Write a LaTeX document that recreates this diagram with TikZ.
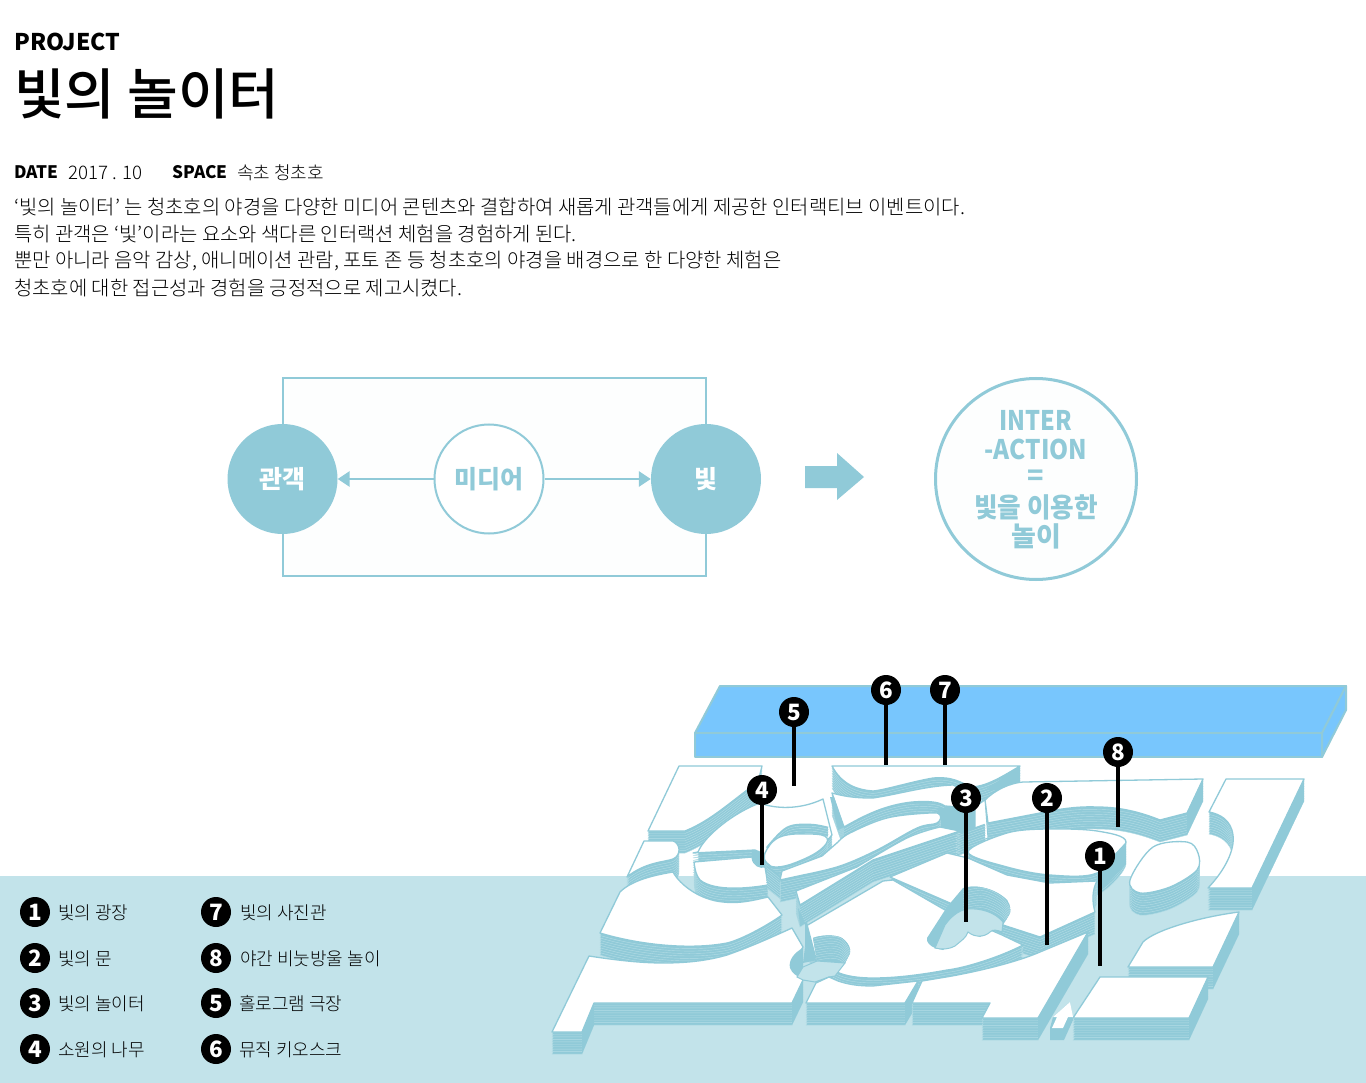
\documentclass[tikz,border=0pt]{standalone}
\usepackage{fontspec}
\setmainfont{Noto Sans CJK KR}
\newfontfamily\krl{Noto Sans CJK KR Light}
\newfontfamily\krm{Noto Sans CJK KR Medium}
\usetikzlibrary{arrows.meta}
\definecolor{mt}{HTML}{90CAD8}
\definecolor{lt}{HTML}{C2E3EA}
\definecolor{wb}{HTML}{78C6FD}
\definecolor{stripeC}{HTML}{B4DDE6}
\tikzset{
 strata/.style={fill=mt,draw=stripeC,line width=.4pt},
 topface/.style={fill=white,draw=mt,line width=1.3pt,line join=round},
 sidef/.style={fill=mt},
 floorf/.style={fill=lt,draw=mt,line width=1pt},
 waterf/.style={fill=wb,draw=mt,line width=2pt,line join=round},
 fullc/.style={circle,fill=mt,minimum size=110pt,inner sep=0pt,text=white,font=\bfseries\fontsize{25}{25}\selectfont},
 openc/.style={circle,fill=white,draw=mt,line width=2pt,minimum size=109pt,inner sep=0pt,text=mt,font=\bfseries\fontsize{25}{25}\selectfont},
 frameline/.style={draw=mt,line width=2pt},
 arrowline/.style={draw=mt,line width=2.8pt,-{Triangle[length=12pt,width=15pt]}},
 badge/.style={circle,fill=black,text=white,minimum size=30pt,inner sep=0pt,font=\bfseries\fontsize{22.5}{22.5}\selectfont},
 pin/.style={draw=black,line width=4pt},
 lbl/.style={anchor=west,inner sep=0pt,text=black,font=\krl\fontsize{18}{20}\selectfont},
 bodyt/.style={anchor=west,inner sep=0pt,text=black,font=\krl\fontsize{19.9}{20}\selectfont},
 headt/.style={anchor=west,inner sep=0pt,text=black,font=\bfseries\fontsize{17.2}{18}\selectfont},
 bigt/.style={text=mt,font=\bfseries\fontsize{27}{27}\selectfont,inner sep=0pt},
}
\newcommand{\slab}[2][9]{%
 \foreach \k in {#1,...,1}{\path[strata,shift={(0,\k*2.45)}] #2;}%
 \path[topface] #2;}
\newcommand{\wall}[2][8]{%
 \foreach \k in {0,...,#1}{\draw[mt,line width=2.6pt,shift={(0,\k*2.45)}] #2;}%
 \foreach \k in {0,...,#1}{\draw[stripeC,line width=.4pt,shift={(0,\k*2.45+1.2)}] #2;}}
\begin{document}
\begin{tikzpicture}[x=1pt,y=-1pt]
\useasboundingbox (0,0) rectangle (1366,1083);
\fill[white] (0,0) rectangle (1366,1083);
\fill[lt] (0,876) rectangle (1366,1083);
% header
\node[headt,font=\bfseries\fontsize{23}{24}\selectfont] (hproj) at (14,42) {PROJECT};
\node[anchor=west,inner sep=0pt,font=\krm\fontsize{55}{55}\selectfont] (htitle) at (14,94) {빛의 놀이터};
\node[headt] (hdate) at (14,172.5) {DATE};
\node[bodyt,font=\krl\fontsize{18.7}{19}\selectfont] (hdatev) at (68,172.5) {2017 . 10};
\node[headt] (hspace) at (172,172.5) {SPACE};
\node[bodyt,font=\krl\fontsize{18}{19}\selectfont] (hspacev) at (237,172.5) {속초 청초호};
\node[bodyt] (b1) at (14,207) {‘빛의 놀이터’ 는 청초호의 야경을 다양한 미디어 콘텐츠와 결합하여 새롭게 관객들에게 제공한 인터랙티브 이벤트이다.};
\node[bodyt] (b2) at (14,234) {특히 관객은 ‘빛’이라는 요소와 색다른 인터랙션 체험을 경험하게 된다.};
\node[bodyt] (b3) at (14,261) {뿐만 아니라 음악 감상, 애니메이션 관람, 포토 존 등 청초호의 야경을 배경으로 한 다양한 체험은};
\node[bodyt] (b4) at (14,288) {청초호에 대한 접근성과 경험을 긍정적으로 제고시켰다.};
% concept diagram
\fill[white!97!lt] (283,378) rectangle (706,576);
\coordinate (tl) at (282.5,378); \coordinate (tr) at (706,378);
\coordinate (bl) at (282.5,576); \coordinate (br) at (706,576);
\node[fullc] (aud) at (282.5,479) {관객};
\node[fullc] (lit) at (706,479) {빛};
\node[openc] (med) at (489,479) {미디어};
\draw[frameline] (aud.north) -- (tl) -- (tr) -- (lit.north);
\draw[frameline] (aud.south) -- (bl) -- (br) -- (lit.south);
\draw[arrowline] (med) -- (aud);
\draw[arrowline] (med) -- (lit);
\fill[mt] (805,466) -- (837,466) -- (837,453) -- (864,477) -- (837,500) -- (837,488) -- (805,488) -- cycle;
\node[circle,draw=mt,line width=3pt,fill=white!97!lt,minimum size=201pt,inner sep=0pt] (res) at (1036,479) {};
\node[bigt] (r1) at (1036,420) {\scalebox{.87}[1]{INTER}};
\node[bigt] (r2) at (1036,449) {\scalebox{.9}[1]{-ACTION}};
\node[bigt] (r3) at (1036,478) {=};
\node[bigt] (r4) at (1036,507) {\scalebox{.95}[1]{빛을 이용한}};
\node[bigt] (r5) at (1036,536) {놀이};
% water
\path[waterf] (720,686) -- (1346,686) -- (1322,733) -- (695,733) -- cycle;
\path[waterf] (695,733) -- (1322,733) -- (1322,757) -- (695,757) -- cycle;
\path[waterf] (1322,733) -- (1346,686) -- (1346,710) -- (1322,757) -- cycle;
% A
\slab{(679,766) -- (762,766) -- (758,782) .. controls (730,802) and (712,820) .. (685,831) -- (648,831) -- cycle}
% N with oval hollow
\slab{(698,852) .. controls (705,835) and (735,812) .. (760,803) .. controls (775,809) and (800,810) .. (823,799) -- (832,835) -- (800,870) -- (755,850) -- (693,853) -- cycle}
\begin{scope}
\clip (760,820) rectangle (829,860);
\wall[3]{plot[smooth,tension=.6] coordinates {(767,848) (787,828) (810,825) (828,828)}}
\end{scope}
\slab[3]{plot[smooth cycle,tension=.7] coordinates {(765,853) (780,837) (810,834) (827,838) (820,850) (797,862) (777,867) (767,863)}}
\fill[mt] (752,850) .. controls (750,862) and (757,868) .. (765,867) -- (765,853) -- cycle;
% B
\slab{(644,841) -- (673,841) .. controls (680,843) and (682,855) .. (673,859) .. controls (665,862) and (645,862) .. (627,877) -- cycle}
% O
\slab{(694,862) -- (752,857) .. controls (753,866) and (760,868) .. (765,867) -- (768,885) .. controls (750,888) and (715,892) .. (700,880) .. controls (696,875) and (695,870) .. (694,862) -- cycle}
% L
\slab{(832,766) -- (1020,766) .. controls (1000,778) and (985,787) .. (970,787) .. controls (955,778) and (945,777) .. (933,778) .. controls (910,782) and (885,790) .. (873,791) .. controls (858,790) and (842,785) .. (832,766) -- cycle}
\fill[sidef] (1020,766) -- (1020,782) -- (1000,790) -- (985,790) -- cycle;
% M
\slab{(832,793) .. controls (850,798) and (862,798) .. (873,798) .. controls (900,794) and (925,786) .. (953,785) -- (975,795) -- (983,800) -- (975,808) -- (945,806) .. controls (938,801) and (925,801) .. (912,802) .. controls (885,805) and (865,815) .. (844,827) -- cycle}
\fill[sidef] (830,797) -- (834,797) -- (844,827) -- (838,830) -- cycle;
\fill[sidef] (938,808) -- (976,808) -- (976,832) -- (957,836) -- (935,826) -- cycle;
% K and I
\slab{(985,800) .. controls (995,790) and (1010,783) .. (1023,782) -- (1203,779) -- (1187,813) -- (1160,820) .. controls (1140,812) and (1120,807) .. (1097,807) .. controls (1075,806) and (1055,810) .. (1040,813) -- (988,823) -- cycle}
\fill[sidef] (1203,779) -- (1187,813) -- (1187,835) -- (1203,801) -- cycle;
\path[fill=white,draw=mt,line width=1pt] (985,800) -- (988,838) -- (975,843) -- (975,807) -- cycle;
\slab{(1226,779) -- (1304,779) -- (1252,888) -- (1208,888) .. controls (1225,870) and (1235,850) .. (1233,835) .. controls (1231,820) and (1220,814) .. (1209,812) -- cycle}
\fill[sidef] (1304,779) -- (1252,888) -- (1252,910) -- (1304,801) -- cycle;
% P serpentine
\wall[8]{(767,867) -- (782,879)}
\slab{(782,871) -- (822,856) -- plot[smooth,tension=.6] coordinates {(838,842) (850,833) (887,818) (930,813) (940,815) (937,823) (917,828) (877,850) (840,866) (803,875)} -- (780,880) -- cycle}
% S
\wall[8]{(957,835) -- (985,825)}
\slab{(796,891) -- plot[smooth,tension=.6] coordinates {(857,867) (907,838) (940,827)} -- (960,831) -- (873,860) -- (800,905) -- cycle}
% T
\slab{plot[smooth cycle,tension=.55] coordinates {(968,852) (1007,833) (1047,829) (1097,831) (1126,842) (1097,873) (1050,875) (1007,867)}}
\fill[sidef] (1126,842) -- (1097,873) -- (1097,895) -- (1126,864) -- cycle;
% J
\slab{plot[smooth cycle,tension=.55] coordinates {(1130,880) (1153,847) (1187,842) (1198,853) (1197,870) (1170,887) (1140,893)}}
% R2
\slab{(890,877) -- (947,853) -- (968,858) -- (1007,875) -- (1050,883) -- (1097,881) .. controls (1092,890) and (1092,902) .. (1095,912) -- (1040,937) -- (1003,925) -- (950,903) -- cycle}
% R
\slab{(806,926) -- (883,881) -- (893,880) -- (945,910) -- (1002,935) -- (1023,945) .. controls (1000,957) and (965,968) .. (947,970) .. controls (920,975) and (895,978) .. (873,978) .. controls (858,978) and (845,976) .. (837,972) -- (815,960) -- cycle}
% hollow 3
\fill[mt] (927,938) -- (947,907) -- (963,888) .. controls (975,884) and (995,888) .. (1007,900) .. controls (1010,904) and (1011,910) .. (1010,913) -- (1003,925) -- (1002,932) -- (993,930) -- (980,937) -- (968,932) -- (962,938) -- (943,950) -- (935,948) .. controls (930,946) and (926,942) .. (927,938) -- cycle;
\begin{scope}
\clip (963,888) .. controls (975,884) and (995,888) .. (1007,900) .. controls (1010,904) and (1011,910) .. (1010,913) -- (1003,925) -- (963,915) -- cycle;
\wall[8]{plot[smooth,tension=.6] coordinates {(963,890) (983,887) (1002,896) (1010,908)}}
\end{scope}
\path[floorf] (935,948) -- (945,925) .. controls (950,918) and (958,910) .. (968,909) .. controls (980,908) and (995,912) .. (1003,922) -- (1002,932) .. controls (997,930) and (993,929) .. (990,932) .. controls (985,937) and (975,938) .. (968,932) .. controls (966,938) and (962,940) .. (955,946) .. controls (950,949) and (942,950) .. (935,948) -- cycle;
% C
\slab{(600,933) -- (620,892) .. controls (632,880) and (655,875) .. (673,872) .. controls (680,885) and (700,900) .. (723,902) .. controls (740,904) and (755,900) .. (768,897) -- (782,915) .. controls (765,927) and (740,940) .. (727,943) .. controls (690,950) and (640,945) .. (600,933) -- cycle}
% D
\slab{(589,956) .. controls (615,960) and (640,963) .. (663,963) .. controls (690,963) and (710,960) .. (727,955) .. controls (750,947) and (770,938) .. (792,928) -- (803,947) -- (793,963) -- (803,980) -- (792,1003) -- (594,1003) -- (582,1032) -- (552,1032) -- cycle}
\fill[sidef] (803,980) -- (792,1003) -- (792,1025) -- (803,1002) -- cycle;
\fill[sidef] (594,1003) -- (582,1032) -- (582,1054) -- (594,1025) -- cycle;
% hollow 1
\fill[mt] (803,948) .. controls (795,952) and (788,960) .. (790,968) .. controls (792,973) and (796,976) .. (803,979) -- cycle;
\fill[mt] (798,908) -- (800,925) -- (807,922) -- (817,960) -- (805,947) -- (805,923) -- cycle;
\fill[mt] (805,947) -- (817,960) -- (803,963) -- cycle;
\begin{scope}
\clip (813,938) .. controls (820,935) and (835,934) .. (842,938) .. controls (848,942) and (851,948) .. (850,953) -- (845,963) -- (817,961) -- cycle;
\fill[mt] (805,925) rectangle (855,965);
\wall[9]{plot[smooth,tension=.6] coordinates {(813,938) (830,935) (842,938) (850,950)}}
\end{scope}
\path[floorf] (797,977) -- (803,967) -- (817,961) -- (845,963) -- (835,976) -- (829,977) -- (815,982) -- (803,980) -- cycle;
% E
\slab{(806,1003) -- (816,983) -- (829,977) -- (838,981) .. controls (850,985) and (860,986) .. (873,986) -- (918,981) -- (905,1003) -- cycle}
\fill[sidef] (918,981) -- (905,1003) -- (905,1025) -- (918,1003) -- cycle;
% F
\slab{(912,1003) -- (922,981) -- (940,978) .. controls (960,975) and (1010,965) .. (1040,952) -- (1088,932) -- (1038,1018) -- (982,1018) -- (990,1003) -- cycle}
\fill[sidef] (1088,932) -- (1038,1018) -- (1038,1040) -- (1088,954) -- cycle;
% H
\slab{(1128,967) -- (1143,942) .. controls (1155,930) and (1200,917) .. (1239,912) -- (1213,967) -- cycle}
\fill[sidef] (1239,912) -- (1213,967) -- (1213,989) -- (1239,934) -- cycle;
% G
\slab{(1100,977) -- (1208,977) -- (1189,1018) -- (1073,1018) -- cycle}
\fill[sidef] (1208,977) -- (1189,1018) -- (1189,1040) -- (1208,999) -- cycle;
% entrance arrow
\fill[mt] (1050,1040) -- (1064,1040) -- (1073,1020) -- (1070,1002) -- (1053,1017) -- (1050,1028) -- cycle;
\fill[white] (1070,1002) -- (1073,1017) -- (1068,1017) -- (1063,1028) -- (1052,1028) -- (1057,1017) -- (1053,1017) -- cycle;
% pins
\node[badge] (m5) at (794,712) {5}; \coordinate (p5) at (794,786);
\node[badge] (m6) at (886,690) {6}; \coordinate (p6) at (886,765);
\node[badge] (m7) at (945,690) {7}; \coordinate (p7) at (945,765);
\node[badge] (m4) at (762,790) {4}; \coordinate (p4) at (762,865);
\node[badge] (m3) at (966,798) {3}; \coordinate (p3) at (966,922);
\node[badge] (m2) at (1047,798) {2}; \coordinate (p2) at (1047,945);
\node[badge] (m8) at (1118,752) {8}; \coordinate (p8) at (1118,827);
\node[badge] (m1) at (1100,856) {1}; \coordinate (p1) at (1100,966);
\foreach \n in {1,...,8}{\draw[pin] (m\n) -- (p\n);}
% legend
\node[badge] (k1) at (35,912) {1}; \node[lbl] (t1) at (58,913) {빛의 광장};
\node[badge] (k2) at (35,958) {2}; \node[lbl] (t2) at (58,959) {빛의 문};
\node[badge] (k3) at (35,1003) {3}; \node[lbl] (t3) at (58,1004) {빛의 놀이터};
\node[badge] (k4) at (35,1049) {4}; \node[lbl] (t4) at (58,1050) {소원의 나무};
\node[badge] (k7) at (216,912) {7}; \node[lbl] (t7) at (240,913) {빛의 사진관};
\node[badge] (k8) at (216,958) {8}; \node[lbl] (t8) at (240,959) {야간 비눗방울 놀이};
\node[badge] (k5) at (216,1003) {5}; \node[lbl] (t5) at (239,1004) {홀로그램 극장};
\node[badge] (k6) at (216,1049) {6}; \node[lbl] (t6) at (239,1050) {뮤직 키오스크};
\end{tikzpicture}
\end{document}
